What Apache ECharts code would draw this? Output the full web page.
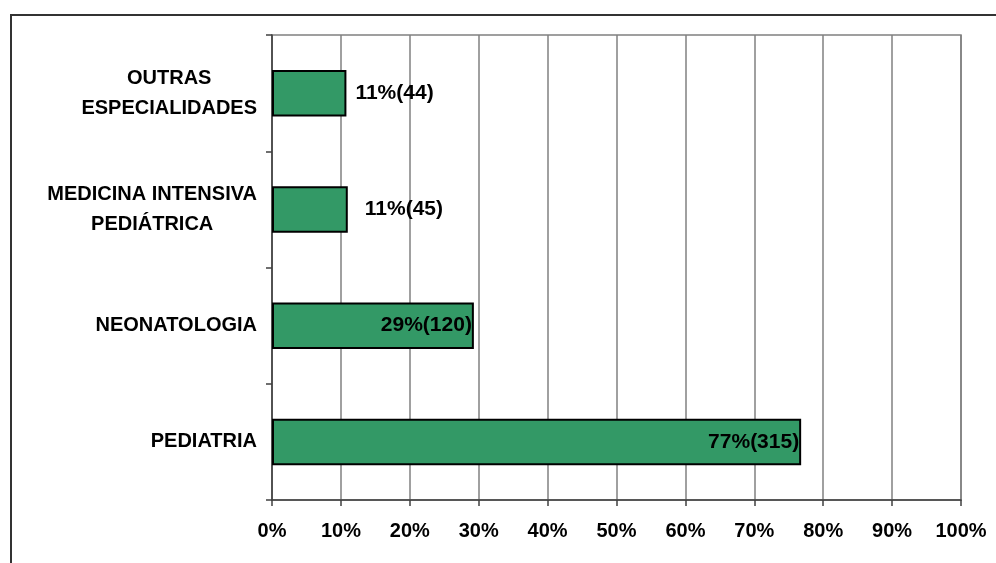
<!DOCTYPE html>
<html>
<head>
<meta charset="utf-8">
<title>Especialidades</title>
<script src="https://cdn.jsdelivr.net/npm/echarts@6/dist/echarts.min.js"></script>
<style>
  html, body { margin: 0; padding: 0; background: #ffffff; }
  #chart { width: 996px; height: 563px; }
</style>
</head>
<body>
<div id="chart"></div>
<script>
// Categories from bottom to top of the chart
const categories = ['PEDIATRIA', 'NEONATOLOGIA', 'MEDICINA INTENSIVA\nPEDIÁTRICA', 'OUTRAS\nESPECIALIDADES'];
// Share of respondents (%) and absolute counts per speciality
const percentages = [76.8, 29.3, 11.0, 10.8];
const counts = [315, 120, 45, 44];
// Axis tick labels (0% .. 100%)
const tickValues = [0, 10, 20, 30, 40, 50, 60, 70, 80, 90, 100];

const FONT = '"Liberation Sans", Arial, sans-serif';

// Small bars get their label outside, long bars inside the end
const labelPlacement = [
  { position: 'insideRight', distance: 2 },
  { position: 'insideRight', distance: 2 },
  { position: 'right', distance: 17 },
  { position: 'right', distance: 9 }
];

const seriesData = percentages.map((v, i) => ({
  value: v,
  label: labelPlacement[i]
}));

const chart = echarts.init(document.getElementById('chart'), null, { renderer: 'canvas' });

chart.setOption({
  animation: false,
  backgroundColor: '#ffffff',
  graphic: [{
    type: 'rect',
    shape: { x: 11, y: 15, width: 1100, height: 700 },
    style: { fill: 'none', stroke: '#333333', lineWidth: 2 },
    silent: true
  }],
  grid: {
    left: 272, right: 35, top: 35, bottom: 63,
    show: true, borderColor: '#808080', borderWidth: 1.5,
    backgroundColor: 'transparent'
  },
  xAxis: {
    type: 'value',
    min: 0, max: 100, interval: 10,
    axisLine: { show: true, lineStyle: { color: '#404040', width: 1.5 } },
    axisTick: { show: true, length: 6, lineStyle: { color: '#404040', width: 1.5 } },
    splitLine: { show: true, lineStyle: { color: '#808080', width: 1.5 } },
    axisLabel: {
      margin: 21,
      fontSize: 20, fontWeight: 'bold', fontFamily: FONT, color: '#000000',
      formatter: v => tickValues.includes(v) ? v + '%' : ''
    }
  },
  yAxis: {
    type: 'category',
    data: categories,
    axisLine: { show: true, lineStyle: { color: '#404040', width: 1.5 } },
    axisTick: { show: true, length: 6, inside: false, lineStyle: { color: '#404040', width: 1.5 } },
    splitLine: { show: false },
    axisLabel: {
      margin: 15,
      formatter: v => v.split('\n').map(l => '{c|' + l + '}').join('\n'),
      rich: {
        c: {
          align: 'center',
          fontSize: 20, fontWeight: 'bold', fontFamily: FONT, color: '#000000',
          lineHeight: 30
        }
      }
    }
  },
  series: [{
    type: 'bar',
    data: seriesData,
    barWidth: '40%',
    itemStyle: { color: '#339966', borderColor: '#000000', borderWidth: 2 },
    label: {
      show: true,
      fontSize: 21, fontWeight: 'bold', fontFamily: FONT, color: '#000000',
      formatter: p => Math.round(p.value) + '%(' + counts[p.dataIndex] + ')'
    }
  }]
});
</script>
</body>
</html>
